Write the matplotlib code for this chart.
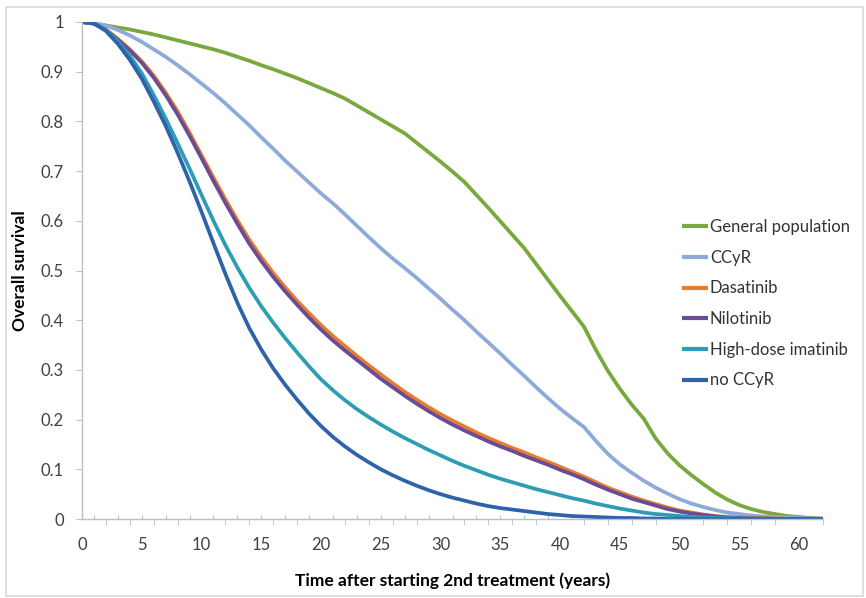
import matplotlib
matplotlib.use("Agg")
import matplotlib.pyplot as plt
from matplotlib.patches import Rectangle
from matplotlib.ticker import FuncFormatter

plt.rcParams['font.family'] = ['Lato', 'DejaVu Sans']

years = list(range(0, 63))

general_population = [
    1.000, 0.997, 0.993, 0.989, 0.985, 0.980, 0.975, 0.969, 0.963, 0.957,
    0.951, 0.945, 0.938, 0.930, 0.922, 0.913, 0.905, 0.896, 0.887, 0.877,
    0.867, 0.857, 0.846, 0.832, 0.818, 0.804, 0.790, 0.776, 0.757, 0.738,
    0.719, 0.699, 0.678, 0.652, 0.626, 0.599, 0.572, 0.545, 0.513, 0.481,
    0.449, 0.418, 0.387, 0.340, 0.298, 0.262, 0.230, 0.202, 0.162, 0.132,
    0.108, 0.088, 0.070, 0.053, 0.039, 0.028, 0.020, 0.014, 0.010, 0.006,
    0.004, 0.002, 0.001]

ccyr = [
    1.000, 0.998, 0.993, 0.984, 0.973, 0.960, 0.945, 0.930, 0.913, 0.895,
    0.876, 0.857, 0.836, 0.814, 0.792, 0.768, 0.745, 0.721, 0.699, 0.677,
    0.655, 0.635, 0.613, 0.590, 0.567, 0.545, 0.524, 0.505, 0.485, 0.464,
    0.443, 0.421, 0.400, 0.377, 0.355, 0.333, 0.310, 0.288, 0.265, 0.243,
    0.222, 0.203, 0.185, 0.157, 0.131, 0.110, 0.093, 0.077, 0.063, 0.051,
    0.040, 0.031, 0.024, 0.018, 0.013, 0.010, 0.007, 0.005, 0.004, 0.003,
    0.002, 0.001, 0.001]

dasatinib = [
    1.000, 0.997, 0.985, 0.966, 0.945, 0.921, 0.892, 0.858, 0.820, 0.777,
    0.732, 0.687, 0.643, 0.601, 0.562, 0.527, 0.495, 0.466, 0.439, 0.414,
    0.390, 0.368, 0.348, 0.328, 0.309, 0.291, 0.273, 0.256, 0.240, 0.225,
    0.211, 0.198, 0.186, 0.174, 0.163, 0.153, 0.143, 0.134, 0.124, 0.115,
    0.105, 0.095, 0.085, 0.074, 0.063, 0.054, 0.045, 0.037, 0.030, 0.023,
    0.017, 0.013, 0.009, 0.006, 0.004, 0.003, 0.002, 0.001, 0.001, 0.0005,
    0.000, 0.000, 0.000]

nilotinib = [
    1.000, 0.997, 0.984, 0.964, 0.943, 0.918, 0.888, 0.853, 0.814, 0.771,
    0.726, 0.680, 0.636, 0.594, 0.554, 0.519, 0.487, 0.458, 0.431, 0.405,
    0.381, 0.359, 0.339, 0.320, 0.301, 0.282, 0.265, 0.248, 0.232, 0.217,
    0.203, 0.190, 0.178, 0.167, 0.156, 0.146, 0.137, 0.127, 0.118, 0.109,
    0.099, 0.090, 0.080, 0.069, 0.059, 0.050, 0.041, 0.034, 0.027, 0.020,
    0.015, 0.011, 0.008, 0.005, 0.003, 0.002, 0.001, 0.001, 0.000, 0.000,
    0.000, 0.000, 0.000]

high_dose_imatinib = [
    1.000, 0.997, 0.984, 0.961, 0.932, 0.897, 0.853, 0.806, 0.756, 0.705,
    0.652, 0.600, 0.551, 0.506, 0.465, 0.428, 0.395, 0.364, 0.335, 0.307,
    0.281, 0.259, 0.239, 0.221, 0.205, 0.190, 0.176, 0.163, 0.151, 0.139,
    0.128, 0.117, 0.107, 0.098, 0.089, 0.081, 0.074, 0.067, 0.060, 0.054,
    0.048, 0.042, 0.037, 0.031, 0.026, 0.021, 0.017, 0.013, 0.010, 0.008,
    0.006, 0.004, 0.003, 0.002, 0.002, 0.001, 0.001, 0.000, 0.000, 0.000,
    0.000, 0.000, 0.000]

no_ccyr = [
    1.000, 0.997, 0.982, 0.956, 0.924, 0.886, 0.840, 0.791, 0.737, 0.679,
    0.618, 0.555, 0.493, 0.435, 0.384, 0.341, 0.303, 0.270, 0.240, 0.212,
    0.187, 0.165, 0.146, 0.129, 0.114, 0.100, 0.088, 0.077, 0.067, 0.058,
    0.050, 0.043, 0.037, 0.031, 0.026, 0.022, 0.019, 0.016, 0.013, 0.010,
    0.008, 0.006, 0.005, 0.004, 0.003, 0.002, 0.002, 0.001, 0.001, 0.000,
    0.000, 0.000, 0.000, 0.000, 0.000, 0.000, 0.000, 0.000, 0.000, 0.000,
    0.000, 0.000, 0.000]

series_names = ["General population", "CCyR", "Dasatinib", "Nilotinib",
                "High-dose imatinib", "no CCyR"]
series_values = [general_population, ccyr, dasatinib, nilotinib,
                 high_dose_imatinib, no_ccyr]
series_colors = ["#79a83c", "#8eaadb", "#ea7a2c", "#6a4c96", "#2d9db5", "#2f63a9"]

x_label_ticks = list(range(0, 61, 5))
y_ticks = [i / 10 for i in range(0, 11)]

W, H = 866, 598
fig = plt.figure(figsize=(W / 100, H / 100), dpi=100)
fig.patches.append(Rectangle((6 / W, 2 / H), 857 / W, 589 / H, transform=fig.transFigure,
                             fill=False, edgecolor="#dadada", linewidth=1.2))
ax = fig.add_axes([82 / W, 79 / H, (823 - 82) / W, (519 - 22) / H])

for name, vals, col in zip(series_names, series_values, series_colors):
    ax.plot(years, vals, color=col, linewidth=2.7, label=name,
            solid_capstyle='butt', solid_joinstyle='round')

ax.set_xlim(0, 62)
ax.set_ylim(0, 1)
for s in ["top", "right"]:
    ax.spines[s].set_visible(False)
for s in ["left", "bottom"]:
    ax.spines[s].set_color("#bfbfbf")
    ax.spines[s].set_linewidth(1.0)

ax.set_yticks(y_ticks)
ax.yaxis.set_major_formatter(FuncFormatter(lambda v, p: "%g" % round(v, 1)))
ax.tick_params(axis='y', which='major', length=4, color="#bfbfbf", pad=9,
               labelsize=12, labelcolor="#404040")

ax.set_xticks(x_label_ticks)
ax.set_xticks(list(range(0, 63, 2)), minor=True)
ax.tick_params(axis='x', which='major', length=0, pad=13, labelsize=12,
               labelcolor="#404040")
ax.tick_params(axis='x', which='minor', length=4, direction='out', color="#bfbfbf")

sec = ax.secondary_xaxis('bottom')
sec.set_xticks(list(range(1, 63, 2)))
sec.set_xticklabels([])
sec.tick_params(length=3, direction='in', color="#bfbfbf")
sec.spines['bottom'].set_visible(False)

ax.set_xlabel("Time after starting 2nd treatment (years)", fontsize=12.5,
              fontweight='bold', labelpad=14)
ax.set_ylabel("Overall survival", fontsize=12.5, fontweight='bold', labelpad=9)

leg = ax.legend(loc='upper left', bbox_to_anchor=(682 / W, 1 - 219 / H),
                bbox_transform=fig.transFigure, frameon=False, fontsize=12,
                handlelength=1.55, handletextpad=0.12, labelspacing=0.88,
                borderpad=0, borderaxespad=0)
for t in leg.get_texts():
    t.set_color("#333333")
for l in leg.get_lines():
    l.set_linewidth(3)

fig.savefig("out.png", dpi=100)
